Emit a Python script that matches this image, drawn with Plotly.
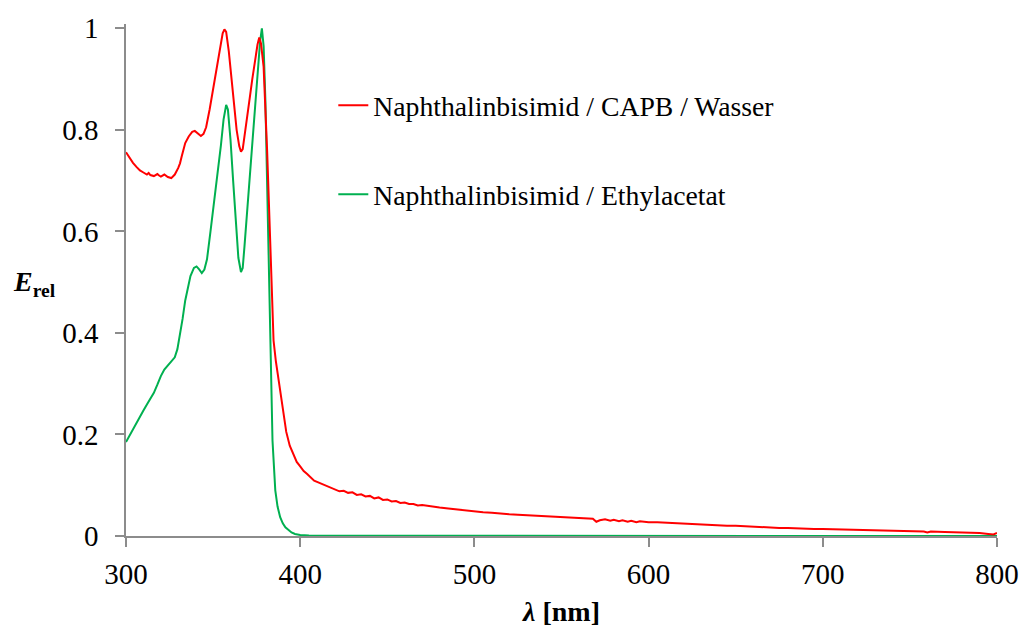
import plotly.graph_objects as go

# ---- data ----
wl_capb = [300, 302, 304, 306, 308, 310, 312, 313, 314, 316, 318, 319, 320, 322, 323, 324, 326,
           328, 330, 331, 332, 333, 334, 336, 338, 339.5, 341, 343, 344.5, 346, 348, 350, 352, 354,
           355.5, 356.5, 357.5, 359, 360.8, 362, 363.5, 365, 366, 367, 368, 369.5, 371, 372.5, 374,
           375.5, 376.5, 377.5, 379, 380, 381, 382, 382.8, 383.8, 384.7, 386, 387.5, 389, 390.5, 392,
           394, 396, 398, 400, 402, 404, 406, 408, 410, 412, 414, 416, 418, 420, 422.5, 425, 427.5,
           430, 432.5, 435, 437.5, 440, 442.5, 445, 447.5, 450, 452.5, 455, 457.5, 460, 462.5, 465,
           467.5, 470, 475, 480, 485, 490, 495, 500, 505, 510, 515, 520, 525, 530, 535, 540, 545,
           550, 555, 560, 565, 568, 570, 572, 575, 578, 580, 583, 585, 588, 590, 593, 595, 600, 605,
           610, 615, 620, 625, 630, 635, 640, 645, 650, 655, 660, 665, 670, 675, 680, 685, 690, 695,
           700, 710, 720, 730, 740, 750, 758, 760, 762, 770, 780, 790, 795, 798, 800]
e_capb = [0.756, 0.745, 0.735, 0.727, 0.720, 0.716, 0.712, 0.715, 0.711, 0.709, 0.713, 0.710, 0.708,
          0.712, 0.709, 0.707, 0.705, 0.712, 0.725, 0.734, 0.748, 0.762, 0.774, 0.787, 0.796, 0.798,
          0.794, 0.788, 0.792, 0.805, 0.840, 0.880, 0.920, 0.962, 0.990, 0.998, 0.993, 0.955, 0.892,
          0.845, 0.800, 0.768, 0.757, 0.762, 0.785, 0.820, 0.862, 0.900, 0.935, 0.968, 0.982, 0.970,
          0.924, 0.850, 0.760, 0.660, 0.583, 0.484, 0.385, 0.345, 0.310, 0.270, 0.235, 0.205, 0.178,
          0.160, 0.146, 0.137, 0.128, 0.122, 0.115, 0.109, 0.106, 0.103, 0.100, 0.097, 0.094, 0.092,
          0.088, 0.089, 0.085, 0.086, 0.081, 0.082, 0.078, 0.079, 0.074, 0.076, 0.071, 0.072, 0.068,
          0.069, 0.065, 0.066, 0.063, 0.063, 0.060, 0.061, 0.058, 0.056, 0.054, 0.052, 0.050, 0.048,
          0.047, 0.046, 0.044, 0.043, 0.042, 0.041, 0.040, 0.039, 0.038, 0.037, 0.036, 0.035, 0.034,
          0.034, 0.028, 0.031, 0.033, 0.030, 0.032, 0.029, 0.031, 0.028, 0.030, 0.027, 0.029, 0.027,
          0.027, 0.026, 0.025, 0.024, 0.023, 0.022, 0.022, 0.021, 0.020, 0.020, 0.019, 0.018, 0.018,
          0.017, 0.016, 0.016, 0.015, 0.015, 0.014, 0.014, 0.013, 0.012, 0.012, 0.011, 0.010, 0.009,
          0.007, 0.009, 0.008, 0.007, 0.006, 0.004, 0.003, 0.006]

wl_ea = [300, 302, 304, 306, 308, 310, 312, 314, 316, 318, 320, 322, 324, 326, 328, 329.5, 331,
         332.5, 334, 335.5, 337, 339, 340.5, 342, 343.5, 345, 346.5, 348.5, 350.5, 352.5, 354.5,
         356, 357.5, 358.5, 360, 361.5, 363, 364.5, 366, 367, 368, 369.5, 371, 372.5, 374, 375.5,
         377, 378, 379, 380, 381, 381.5, 382.4, 383.2, 384.1, 385.7, 387, 388.5, 390, 391.5, 393.3,
         395, 397, 400, 405, 410, 800]
e_ea = [0.185, 0.198, 0.211, 0.223, 0.235, 0.247, 0.259, 0.270, 0.282, 0.298, 0.315, 0.328, 0.336,
        0.342, 0.352, 0.368, 0.395, 0.428, 0.464, 0.490, 0.512, 0.528, 0.531, 0.525, 0.518, 0.525,
        0.545, 0.600, 0.655, 0.710, 0.770, 0.820, 0.849, 0.840, 0.780, 0.700, 0.615, 0.548, 0.520,
        0.528, 0.570, 0.640, 0.710, 0.780, 0.850, 0.920, 0.975, 1.000, 0.965, 0.860, 0.690, 0.583,
        0.451, 0.320, 0.188, 0.090, 0.058, 0.037, 0.025, 0.017, 0.011, 0.007, 0.004, 0.002, 0.001,
        0.0005, 0.0]

name_capb = "Naphthalinbisimid / CAPB / Wasser"
name_ea = "Naphthalinbisimid / Ethylacetat"
x_ticks = [300, 400, 500, 600, 700, 800]
y_ticks = [0, 0.2, 0.4, 0.6, 0.8, 1]

FONT = "Liberation Serif"
AXIS_COL = "#8c8c8c"

fig = go.Figure()
fig.add_trace(go.Scatter(x=wl_ea, y=e_ea, name=name_ea, mode="lines",
                         line=dict(color="#00b050", width=2), legendgroup="b", legendrank=2))
fig.add_trace(go.Scatter(x=wl_capb, y=e_capb, name=name_capb, mode="lines",
                         line=dict(color="#ff0000", width=2), legendgroup="a", legendrank=1))

fig.update_layout(
    width=1023, height=627,
    margin=dict(l=126, r=26, t=24, b=91, autoexpand=False),
    paper_bgcolor="white", plot_bgcolor="white",
    font=dict(family=FONT, size=29, color="black"),
    showlegend=True,
    legend=dict(x=0.238, y=0.889, xanchor="left", yanchor="top",
                font=dict(family=FONT, size=27.7, color="black"),
                bgcolor="rgba(0,0,0,0)", tracegroupgap=50, traceorder="grouped"),
    xaxis=dict(range=[300, 800], tickvals=x_ticks, showgrid=False, zeroline=False,
               showline=True, linecolor=AXIS_COL, linewidth=1.5, automargin=False,
               ticks="outside", ticklen=9, tickcolor=AXIS_COL, tickwidth=1.5,
               tickfont=dict(family=FONT, size=29), ticklabelstandoff=2,
               title=dict(text="<b><i>λ</i> [nm]</b>", font=dict(family=FONT, size=28), standoff=14)),
    yaxis=dict(range=[0, 1.0085], tickvals=y_ticks, showgrid=False, zeroline=False,
               showline=True, linecolor=AXIS_COL, linewidth=1.5, automargin=False,
               ticks="outside", ticklen=9, tickcolor=AXIS_COL, tickwidth=1.5,
               tickfont=dict(family=FONT, size=29), ticklabelstandoff=11),
)

fig.add_annotation(text="<b><i>E</i></b><sub><b>rel</b></sub>", xref="paper", yref="paper",
                   x=(34 - 126) / 871, y=(535.5 - 283) / 511.5, xanchor="center", yanchor="middle",
                   showarrow=False, font=dict(family=FONT, size=28, color="black"))

fig.write_html("out.html", config={"displayModeBar": False},
               post_script="document.body.style.margin='0px';")
